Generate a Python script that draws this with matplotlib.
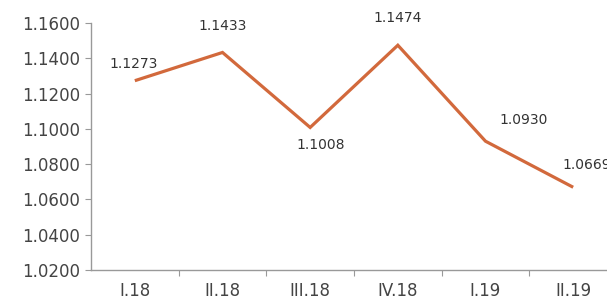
import matplotlib
matplotlib.use("Agg")
import matplotlib.pyplot as plt
from matplotlib.ticker import FixedLocator, NullFormatter

plt.rcParams["font.family"] = ["DejaVu Sans"]

categories = ["I.18", "II.18", "III.18", "IV.18", "I.19", "II.19"]
values = [1.1273, 1.1433, 1.1008, 1.1474, 1.0930, 1.0669]
value_labels = ["1.1273", "1.1433", "1.1008", "1.1474", "1.0930", "1.0669"]
yticks = [1.02, 1.04, 1.06, 1.08, 1.10, 1.12, 1.14, 1.16]

# label offsets in pixels (dx, dy)
offsets = [(-1, 17), (0, 26), (11, -18), (0, 27), (38, 21), (14, 22)]

fig = plt.figure(figsize=(6.07, 3.03), dpi=100)
ax = fig.add_axes([91/607, 33/303, (617-91)/607, (270-23)/303])

x = list(range(len(categories)))
ax.plot(x, values, color="#D2693C", lw=2.3, solid_joinstyle="miter", solid_capstyle="butt")

for xi, v, lab, (dx, dy) in zip(x, values, value_labels, offsets):
    ax.annotate(lab, (xi, v), xytext=(dx, dy), textcoords="offset pixels",
                ha="center", va="center", fontsize=10, color="#333333")

ax.set_xlim(-0.5, 5.5)
ax.set_ylim(1.02, 1.16)
ax.set_yticks(yticks)
ax.set_yticklabels([f"{t:.4f}" for t in yticks])
ax.xaxis.set_major_locator(FixedLocator([i + 0.5 for i in range(len(categories) - 1)]))
ax.xaxis.set_major_formatter(NullFormatter())
ax.xaxis.set_minor_locator(FixedLocator(x))
ax.set_xticklabels(categories, minor=True)
ax.tick_params(axis="x", which="minor", length=0, pad=9, labelsize=12, labelcolor="#444444")
ax.tick_params(axis="x", which="major", length=4, color="#999999", direction="out")
ax.tick_params(axis="y", length=4, color="#999999", labelsize=12, labelcolor="#444444", pad=4)

for s in ["top", "right"]:
    ax.spines[s].set_visible(False)
for s in ["left", "bottom"]:
    ax.spines[s].set_color("#999999")
    ax.spines[s].set_linewidth(1)

fig.savefig("out.png", dpi=100)
